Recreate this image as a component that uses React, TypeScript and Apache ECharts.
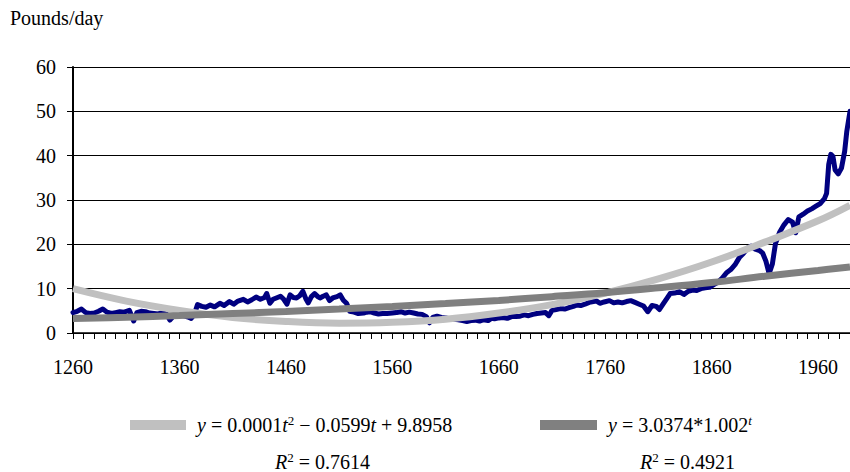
import React, { useEffect, useRef } from "react";
import * as echarts from "echarts";

const dataYears = [
  1260, 1264, 1268, 1272, 1276, 1280, 1284, 1288, 1292, 1296, 1300, 1304, 1308, 1313, 1317, 1320, 1324, 1328, 1332, 1336,
  1340, 1344, 1348, 1351, 1355, 1360, 1364, 1368, 1371, 1374, 1377, 1381, 1385, 1389, 1393, 1398, 1402, 1407, 1411, 1415,
  1420, 1424, 1428, 1432, 1436, 1440, 1442, 1445, 1448, 1451, 1455, 1458, 1461, 1464, 1467, 1470, 1473, 1476, 1479, 1481,
  1484, 1487, 1490, 1492, 1495, 1498, 1501, 1504, 1508, 1511, 1514, 1517, 1520, 1524, 1528, 1533, 1536, 1539, 1543, 1547,
  1551, 1555, 1560, 1564, 1568, 1572, 1576, 1580, 1584, 1588, 1592, 1595, 1598, 1602, 1606, 1610, 1614, 1618, 1622, 1626,
  1630, 1634, 1638, 1642, 1646, 1650, 1653, 1656, 1660, 1664, 1668, 1672, 1676, 1680, 1684, 1688, 1692, 1696, 1700, 1704,
  1707, 1710, 1714, 1718, 1722, 1726, 1730, 1733, 1737, 1741, 1745, 1749, 1752, 1755, 1759, 1764, 1768, 1772, 1776, 1780,
  1784, 1788, 1792, 1796, 1800, 1804, 1808, 1811, 1814, 1818, 1821, 1825, 1830, 1834, 1838, 1842, 1846, 1850, 1854, 1858,
  1862, 1866, 1870, 1874, 1878, 1882, 1886, 1890, 1894, 1897, 1901, 1905, 1908, 1911, 1914, 1917, 1920, 1924, 1928, 1932,
  1936, 1939, 1942, 1946, 1950, 1954, 1958, 1962, 1966, 1968, 1970, 1972, 1974, 1976, 1979, 1982, 1985, 1987, 1990,
];
const dataValues = [
  4.6, 4.9, 5.4, 4.6, 4.4, 4.5, 4.9, 5.4, 4.7, 4.4, 4.6, 4.8, 4.7, 5.1, 2.7, 4.6, 4.9, 4.8, 4.5, 4.4,
  4.3, 4.6, 4.2, 2.9, 4.0, 4.1, 3.9, 3.6, 3.3, 4.2, 6.4, 6.0, 5.8, 6.3, 5.9, 6.7, 6.2, 7.1, 6.5, 7.2,
  7.6, 7.0, 7.5, 8.1, 7.6, 8.0, 8.9, 6.7, 7.6, 7.9, 8.3, 7.6, 6.5, 8.6, 8.0, 7.9, 8.4, 9.4, 7.6, 6.8,
  8.2, 8.9, 8.2, 7.9, 8.3, 8.6, 7.3, 7.9, 8.2, 8.6, 7.4, 6.7, 4.9, 4.7, 4.4, 4.5, 4.7, 4.8, 4.5, 4.3,
  4.4, 4.4, 4.5, 4.6, 4.8, 4.5, 4.7, 4.5, 4.3, 4.2, 3.7, 2.3, 3.5, 3.8, 3.5, 3.4, 3.2, 3.1, 3.0, 2.8,
  2.6, 2.8, 2.9, 2.7, 3.0, 2.8, 3.3, 3.2, 3.4, 3.5, 3.3, 3.7, 3.7, 3.8, 4.1, 3.9, 4.2, 4.4, 4.5, 4.6,
  3.9, 5.1, 5.3, 5.5, 5.4, 5.7, 6.0, 6.3, 6.2, 6.5, 6.9, 7.1, 7.2, 6.7, 7.0, 7.3, 6.8, 7.0, 6.8, 7.1,
  7.3, 6.9, 6.5, 6.1, 4.8, 6.2, 6.0, 5.3, 6.4, 7.8, 8.9, 9.0, 9.3, 8.7, 9.4, 9.7, 9.6, 10.0, 10.2, 10.3,
  10.9, 11.5, 12.4, 13.6, 14.3, 15.4, 17.0, 18.0, 19.2, 19.6, 18.9, 18.6, 18.0, 16.2, 13.4, 15.5, 20.2, 22.8, 24.4, 25.6,
  25.0, 22.6, 26.2, 26.8, 27.5, 28.0, 28.6, 29.2, 30.3, 31.5, 38.0, 40.3, 39.8, 36.8, 35.9, 37.2, 41.0, 45.5, 50.0,
];

const trendYears = [1260, 1310, 1360, 1410, 1460, 1510, 1560, 1610, 1660, 1710, 1760, 1810, 1860, 1910, 1960, 1990];
const polyValues = [10.0, 7.2, 5.1, 3.5, 2.6, 2.2, 2.4, 3.1, 4.5, 6.4, 9.0, 12.2, 16.0, 20.5, 25.3, 28.8];
const expValues = [3.25, 3.55, 3.95, 4.4, 4.85, 5.4, 6.0, 6.65, 7.35, 8.2, 9.1, 10.2, 11.4, 12.8, 14.1, 14.9];

const yAxisTitle = "Pounds/day";
const polyEquation = "{i|y} = 0.0001{i|t}{s|2} \u2212 0.0599{i|t} + 9.8958";
const polyR2 = "{i|R}{s|2} = 0.7614";
const expEquation = "{i|y} = 3.0374*1.002{si|t}";
const expR2 = "{i|R}{s|2} = 0.4921";

const FONT = "Liberation Serif";

export default function App() {
  const ref = useRef<HTMLDivElement>(null);
  useEffect(() => {
    const chart = echarts.init(ref.current!, null, { renderer: "svg" });
    const rich = {
      i: { fontFamily: FONT, fontSize: 20, fontStyle: "italic", color: "#000" },
      s: { fontFamily: FONT, fontSize: 13, color: "#000", verticalAlign: "top", lineHeight: 22 },
      si: { fontFamily: FONT, fontSize: 13, fontStyle: "italic", color: "#000", verticalAlign: "top", lineHeight: 22 },
    };
    const textStyle = (text: string, x: number, y: number) => ({
      type: "text",
      x,
      y,
      style: {
        text,
        fontFamily: FONT,
        fontSize: 20,
        fill: "#000",
        verticalAlign: "middle",
        rich,
      },
    });
    chart.setOption({
      animation: false,
      textStyle: { fontFamily: FONT },
      grid: { left: 73, right: 0, top: 67, bottom: 139, containLabel: false },
      xAxis: {
        type: "value",
        min: 1260,
        max: 1990,
        interval: 10,
        splitLine: { show: false },
        axisLine: { show: true, lineStyle: { color: "#000", width: 1.5 } },
        axisTick: { show: true, inside: false, length: 6, lineStyle: { color: "#000", width: 1 } },
        axisLabel: {
          fontFamily: FONT,
          fontSize: 20,
          color: "#000",
          margin: 24,
          showMaxLabel: false,
          formatter: (v: number) => ((v - 1260) % 100 === 0 ? String(v) : ""),
        },
      },
      yAxis: {
        type: "value",
        min: 0,
        max: 60,
        interval: 10,
        axisLine: { show: true, lineStyle: { color: "#000", width: 2 } },
        axisTick: { show: true, inside: false, length: 6, lineStyle: { color: "#000", width: 1 } },
        splitLine: { show: true, lineStyle: { color: "#000", width: 1 } },
        axisLabel: { fontFamily: FONT, fontSize: 20, color: "#000", margin: 17 },
      },
      series: [
        {
          type: "line",
          name: "Data",
          data: dataYears.map((y, i) => [y, dataValues[i]]),
          symbol: "none",
          lineStyle: { color: "#000080", width: 5, join: "round", cap: "round" },
          z: 2,
        },
        {
          type: "line",
          name: "Poly",
          data: trendYears.map((y, i) => [y, polyValues[i]]),
          symbol: "none",
          smooth: 0.4,
          lineStyle: { color: "#C0C0C0", width: 7 },
          z: 3,
        },
        {
          type: "line",
          name: "Expon",
          data: trendYears.map((y, i) => [y, expValues[i]]),
          symbol: "none",
          smooth: 0.4,
          lineStyle: { color: "#808080", width: 7 },
          z: 4,
        },
      ],
      graphic: [
        {
          type: "text",
          x: 10,
          y: 18,
          style: { text: yAxisTitle, fontFamily: FONT, fontSize: 20, fill: "#000", verticalAlign: "middle" },
        },
        { type: "rect", shape: { x: 130, y: 420, width: 56, height: 10 }, style: { fill: "#C0C0C0" } },
        { type: "rect", shape: { x: 540, y: 420, width: 57, height: 10 }, style: { fill: "#808080" } },
        textStyle(polyEquation, 197, 425),
        textStyle(polyR2, 275, 462),
        textStyle(expEquation, 608, 425),
        textStyle(expR2, 640, 462),
      ],
    });
    return () => chart.dispose();
  }, []);
  return <div ref={ref} style={{ position: "absolute", left: 0, top: 0, width: 850, height: 472 }} />;
}
